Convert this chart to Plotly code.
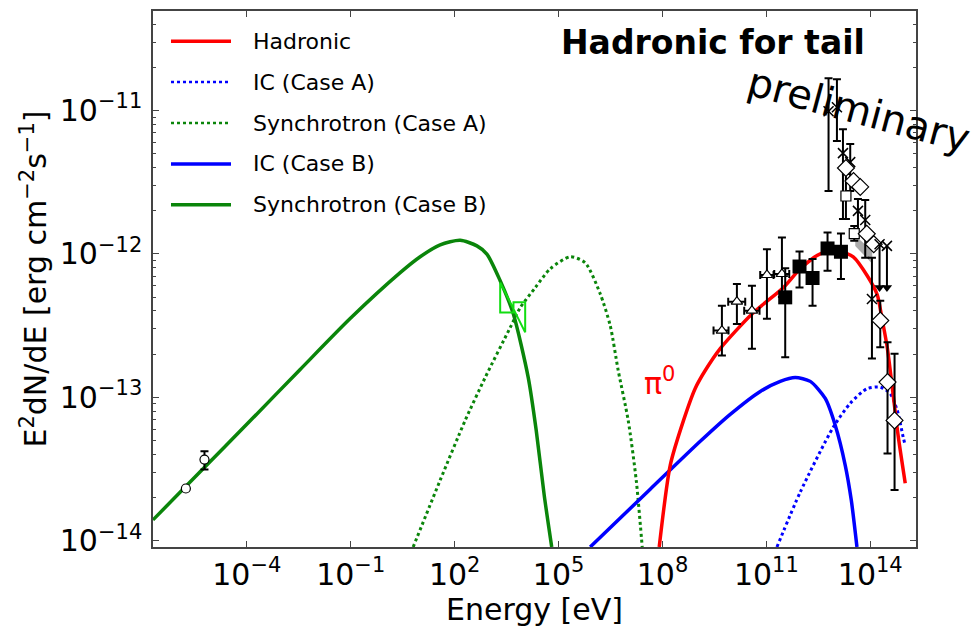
import numpy as np
import plotly.graph_objects as go

# ---------------- model curves: log10(E/eV) and log10(E^2 dN/dE / erg cm^-2 s^-1) ----------------
sync_b_logE = [-6.71, -5.349, -3.904, -2.461, -1.017, 0.427, 1.004, 1.582, 2.159, 2.642, 2.930,
               3.314, 3.690, 4.123, 4.354, 4.585, 4.802]
sync_b_logF = [-13.855, -13.519, -13.164, -12.806, -12.451, -12.131, -12.020, -11.937, -11.905, -11.944,
               -12.001, -12.187, -12.416, -12.861, -13.230, -13.682, -14.044]

sync_a_logE = [0.802, 1.582, 2.304, 2.881, 3.603, 3.892, 4.325, 4.758, 5.336, 5.769, 6.202, 6.491,
               6.722, 7.010, 7.242, 7.415]
sync_a_logF = [-14.044, -13.578, -13.161, -12.862, -12.514, -12.375, -12.236, -12.104, -12.020, -12.062,
               -12.278, -12.500, -12.813, -13.161, -13.578, -14.044]

ic_b_logE = [5.913, 7.646, 9.090, 9.956, 10.823, 11.400, 11.833, 12.267, 12.700, 12.988, 13.277, 13.451, 13.615]
ic_b_logF = [-14.044, -13.641, -13.307, -13.119, -12.959, -12.889, -12.862, -12.889, -13.008, -13.195,
             -13.474, -13.717, -14.044]

ic_a_logE = [11.305, 11.978, 12.930, 13.421, 13.903, 14.287, 14.576, 14.778, 14.951, 15.009]
ic_a_logF = [-14.044, -13.661, -13.209, -13.042, -12.940, -12.929, -12.975, -13.091, -13.279, -13.335]

had_logE = [7.906, 8.224, 8.608, 8.945, 9.234, 9.667, 10.591, 11.487, 11.978, 12.555, 13.133, 13.508,
            13.912, 14.201, 14.331, 14.490, 14.663, 14.807, 15.009]
had_logF = [-14.044, -13.474, -13.161, -12.938, -12.813, -12.660, -12.417, -12.236, -12.104, -11.999,
            -11.985, -12.020, -12.152, -12.285, -12.442, -12.653, -12.987, -13.272, -13.599]

# X-ray butterfly outline
xray_logE = [3.314, 3.314, 3.698, 3.698, 4.036, 4.036, 3.314]
xray_logF = [-12.199, -12.408, -12.408, -12.338, -12.338, -12.547, -12.199]

# ---------------- measurements ----------------
radio_logE = [-5.761, -5.224]
radio_logF = [-13.636, -13.434]
radio_hi = [-13.636, -13.376]
radio_lo = [-13.636, -13.503]

tri_logE = [9.716, 10.149, 10.583, 11.016, 11.449]
tri_logF = [-12.535, -12.333, -12.396, -12.147, -12.140]
tri_hi = [-12.361, -12.210, -12.222, -11.967, -11.886]
tri_lo = [-12.708, -12.488, -12.662, -12.453, -12.300]
tri_Elo = [9.474, 9.898, 10.360, 10.822, 11.227]
tri_Ehi = [9.907, 10.389, 10.802, 11.207, 11.660]

sq_logE = [11.544, 11.957, 12.333, 12.766, 13.153]
sq_logF = [-12.303, -12.088, -12.168, -11.962, -11.985]
sq_hi = [-12.100, -11.983, -12.036, -11.851, -11.858]
sq_lo = [-12.720, -12.234, -12.361, -12.118, -12.175]

cross_logE = [12.795, 13.037, 13.211, 13.421, 13.644, 13.854, 14.048]
cross_logF = [-11.005, -10.977, -11.297, -11.360, -11.700, -11.763, -12.314]
cross_hi = [-10.775, -10.782, -11.130, -11.234, -11.617, -11.624, -12.027]
cross_lo = [-11.561, -11.213, -11.756, -11.561, -11.860, -12.027, -12.729]

osq_logE = [13.297, 13.537]
osq_logF = [-11.596, -11.858]
osq_hi = [-11.443, -11.805]
osq_lo = [-11.756, -11.909]

dia_logE = [13.297, 13.516, 13.710, 13.898, 14.100, 14.288, 14.498, 14.701]
dia_logF = [-11.401, -11.492, -11.533, -11.860, -11.932, -12.465, -12.894, -13.161]
dia_hi = [-11.401, -11.492, -11.533, -11.860, -11.932, -12.326, -12.616, -12.697]
dia_lo = [-11.401, -11.492, -11.533, -11.860, -11.932, -12.651, -13.392, -13.647]

ul_logE = [14.268, 14.481]
ul_logF = [-11.932, -11.944]
ul_end = [-12.234, -12.234]

band_logE = [13.566, 14.057, 14.057, 13.566]
band_logF = [-11.874, -11.978, -12.069, -11.944]

x_tick_exp = [-4, -1, 2, 5, 8, 11, 14]
y_tick_exp = [-14, -13, -12, -11]

RED = "#ff0000"
BLUE = "#0000ff"
GREEN = "#0a850a"
LIME = "#11dd11"
FONT = "DejaVu Sans"


def p10(v):
    return 10 ** np.asarray(v, dtype=float)


def errs(center, hi, lo):
    c, h, l = p10(center), p10(hi), p10(lo)
    return dict(type="data", symmetric=False, array=h - c, arrayminus=c - l,
                color="black", thickness=2, width=4)


fig = go.Figure()

# model curves
curves = [
    (sync_b_logE, sync_b_logF, GREEN, "solid", 3.5),
    (sync_a_logE, sync_a_logF, GREEN, "dot", 3),
    (ic_b_logE, ic_b_logF, BLUE, "solid", 3.5),
    (ic_a_logE, ic_a_logF, BLUE, "dot", 3),
    (had_logE, had_logF, RED, "solid", 3.5),
]
for lx, ly, col, dash, w in curves:
    fig.add_trace(go.Scatter(x=p10(lx), y=p10(ly), mode="lines",
                             line=dict(color=col, width=w, dash=dash, shape="spline", smoothing=0.7),
                             showlegend=False, hoverinfo="skip"))

fig.add_trace(go.Scatter(x=p10(xray_logE), y=p10(xray_logF), mode="lines",
                         line=dict(color=LIME, width=2), showlegend=False))

# shaded spectral band
fig.add_trace(go.Scatter(x=p10(band_logE), y=p10(band_logF), mode="lines", fill="toself",
                         fillcolor="rgba(150,150,150,0.8)", line=dict(width=0), showlegend=False))

# radio points
fig.add_trace(go.Scatter(x=p10(radio_logE), y=p10(radio_logF), mode="markers",
                         error_y=errs(radio_logF, radio_hi, radio_lo),
                         marker=dict(symbol="circle", size=9, color="white", line=dict(color="black", width=1.2)),
                         showlegend=False))

# gamma-ray points
tri_E = p10(tri_logE)
fig.add_trace(go.Scatter(x=tri_E, y=p10(tri_logF), mode="markers",
                         error_y=errs(tri_logF, tri_hi, tri_lo),
                         error_x=dict(type="data", symmetric=False, array=p10(tri_Ehi) - tri_E,
                                      arrayminus=tri_E - p10(tri_Elo), color="black", thickness=2, width=4),
                         marker=dict(symbol="triangle-up", size=10, color="white", line=dict(color="black", width=1.2)),
                         showlegend=False))

fig.add_trace(go.Scatter(x=p10(sq_logE), y=p10(sq_logF), mode="markers",
                         error_y=errs(sq_logF, sq_hi, sq_lo),
                         marker=dict(symbol="square", size=14, color="black"),
                         showlegend=False))

fig.add_trace(go.Scatter(x=p10(cross_logE), y=p10(cross_logF), mode="markers",
                         error_y=errs(cross_logF, cross_hi, cross_lo),
                         marker=dict(symbol="x-thin-open", size=10, color="black", line=dict(color="black", width=1.5)),
                         showlegend=False))

fig.add_trace(go.Scatter(x=p10(osq_logE), y=p10(osq_logF), mode="markers",
                         error_y=errs(osq_logF, osq_hi, osq_lo),
                         marker=dict(symbol="square", size=10, color="white", line=dict(color="black", width=1.2)),
                         showlegend=False))

fig.add_trace(go.Scatter(x=p10(dia_logE), y=p10(dia_logF), mode="markers",
                         error_y=errs(dia_logF, dia_hi, dia_lo),
                         marker=dict(symbol="diamond", size=13, color="white", line=dict(color="black", width=1.2)),
                         showlegend=False))

# upper limits: stem, arrow head and marker on top
for e, f, g in zip(ul_logE, ul_logF, ul_end):
    fig.add_trace(go.Scatter(x=p10([e, e]), y=p10([f, g]), mode="lines",
                             line=dict(color="black", width=2), showlegend=False))
fig.add_trace(go.Scatter(x=p10(ul_logE), y=p10(ul_end), mode="markers",
                         marker=dict(symbol="triangle-down", size=9, color="black"), showlegend=False))
fig.add_trace(go.Scatter(x=p10(ul_logE), y=p10(ul_logF), mode="markers",
                         marker=dict(symbol="x-thin-open", size=10, color="black", line=dict(color="black", width=1.5)),
                         showlegend=False))

# ---------------- layout ----------------
W, H = 980, 627
L, R, T, B = 153, 916, 9, 547


def px(xp):
    return (xp - L) / (R - L)


def py(yp):
    return (B - yp) / (B - T)


axis_common = dict(type="log", showgrid=False, zeroline=False, showline=True, linecolor="#444444",
                   linewidth=1.5, mirror="allticks", ticks="inside", tickcolor="#444444", tickwidth=1,
                   ticklen=6, tickfont=dict(family=FONT, size=30, color="black"))

fig.update_xaxes(range=[-6.71, 15.32], tickvals=[10.0 ** k for k in x_tick_exp],
                 ticktext=[f"10<sup>{str(k).replace('-', '−')}</sup>" for k in x_tick_exp],
                 title=dict(text="Energy [eV]", font=dict(family=FONT, size=30, color="black"), standoff=4),
                 **axis_common)

minor_y = [m * 10.0 ** k for k in range(-15, -10) for m in range(2, 10)]
fig.update_yaxes(range=[-14.044, -10.306], tickvals=[10.0 ** k for k in y_tick_exp],
                 ticktext=[f"10<sup>{str(k).replace('-', '−')}</sup>" for k in y_tick_exp],
                 ticklabelstandoff=3,
                 minor=dict(tickmode="array", tickvals=minor_y, ticks="inside", ticklen=3,
                            tickcolor="#444444", showgrid=False),
                 title=dict(text="E<sup>2</sup>dN/dE [erg cm<sup>−2</sup>s<sup>−1</sup>]",
                            font=dict(family=FONT, size=30, color="black"), standoff=4),
                 **axis_common)

# legend drawn in the upper-left corner of the axes
legend_rows = [
    ("Hadronic", RED, "solid", 3.5),
    ("IC (Case A)", BLUE, "dot", 2.5),
    ("Synchrotron (Case A)", GREEN, "dot", 2.5),
    ("IC (Case B)", BLUE, "solid", 3.5),
    ("Synchrotron (Case B)", GREEN, "solid", 3.5),
]
row_y = [39.3, 80.3, 121.5, 162.5, 203.5]
shapes = []
annotations = []
for (label, col, dash, w), yp in zip(legend_rows, row_y):
    shapes.append(dict(type="line", xref="paper", yref="paper", x0=px(171), x1=px(231), y0=py(yp), y1=py(yp),
                       line=dict(color=col, width=w, dash=dash)))
    annotations.append(dict(xref="paper", yref="paper", x=px(251), y=py(yp), text=label, showarrow=False,
                            xanchor="left", yanchor="middle", font=dict(family=FONT, size=22, color="black")))

annotations.append(dict(xref="paper", yref="paper", x=px(713), y=py(41), text="<b>Hadronic for tail</b>",
                        showarrow=False, xanchor="center", yanchor="middle",
                        font=dict(family=FONT, size=33, color="black")))
annotations.append(dict(xref="paper", yref="paper", x=px(659), y=py(381), text="π<sup>0</sup>",
                        showarrow=False, xanchor="center", yanchor="middle",
                        font=dict(family=FONT, size=30, color=RED)))
annotations.append(dict(xref="paper", yref="paper", x=px(859), y=py(108), text="preliminary",
                        showarrow=False, xanchor="center", yanchor="middle", textangle=15,
                        font=dict(family=FONT, size=40, color="black")))

fig.update_layout(width=W, height=H, margin=dict(l=L, r=W - R, t=T, b=H - B),
                  paper_bgcolor="white", plot_bgcolor="white", showlegend=False,
                  shapes=shapes, annotations=annotations)

fig.write_html("out.html")
